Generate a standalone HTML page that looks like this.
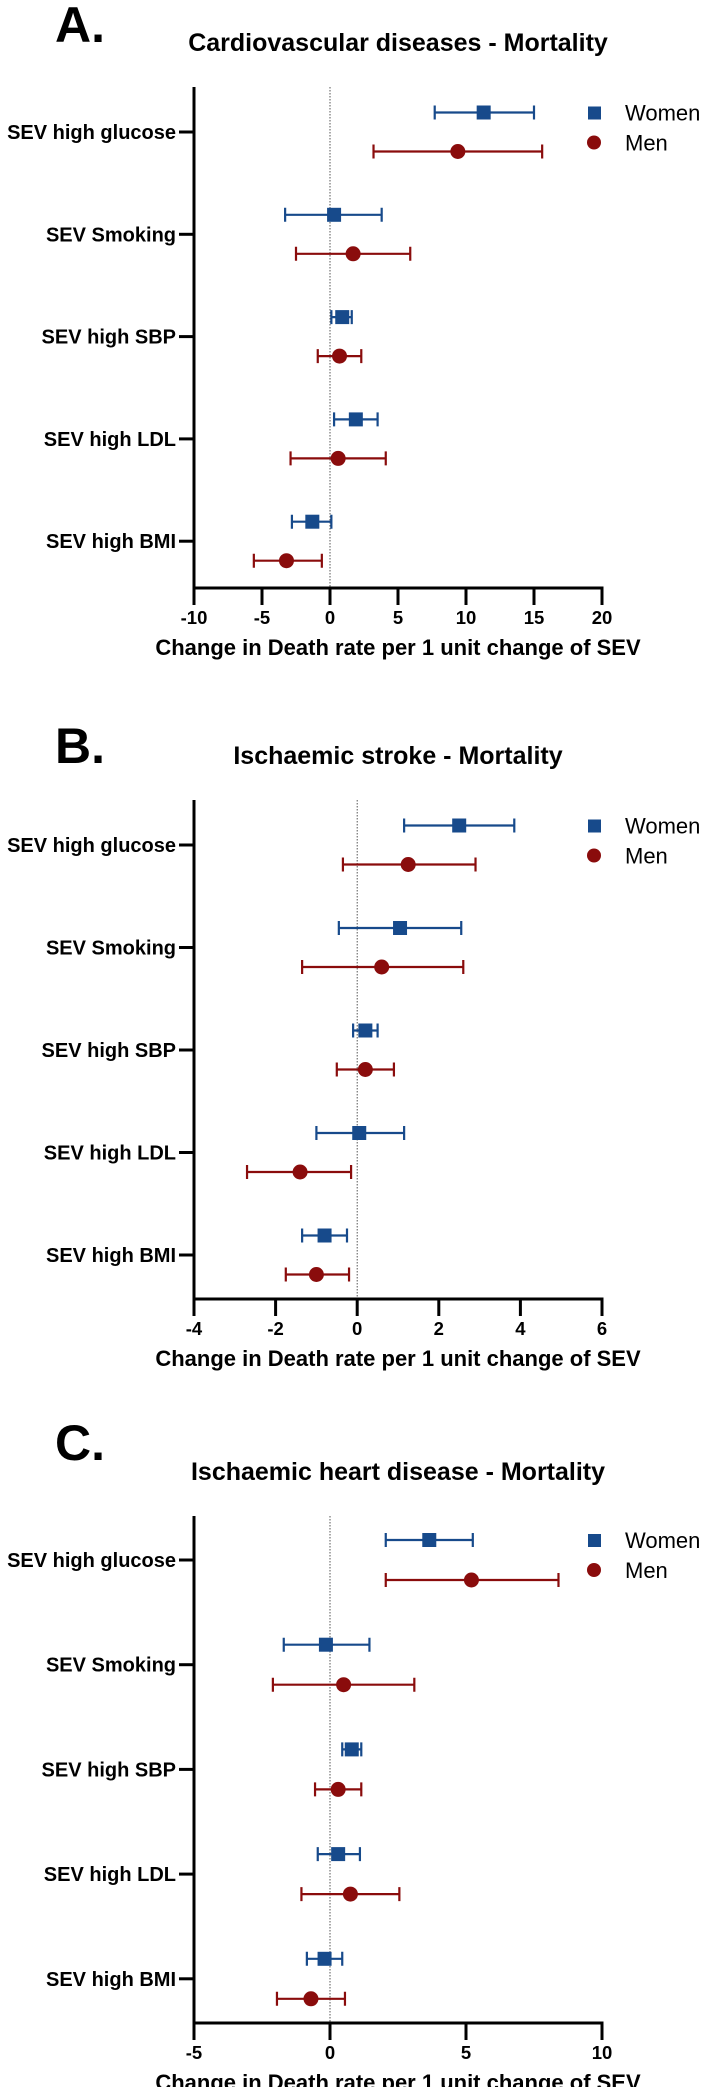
<!DOCTYPE html>
<html><head><meta charset="utf-8">
<style>
html,body{margin:0;padding:0;background:#fff;}
svg{display:block;font-family:"Liberation Sans",Arial,sans-serif;}
</style></head>
<body>
<svg id="fig" width="701" height="2087" viewBox="0 0 701 2087"></svg>
<script>
const categories = ["SEV high glucose","SEV Smoking","SEV high SBP","SEV high LDL","SEV high BMI"];
const panelTitles = ["Cardiovascular diseases - Mortality","Ischaemic stroke - Mortality","Ischaemic heart disease - Mortality"];
const panelLetters = ["A.","B.","C."];
const ticksA = [-10,-5,0,5,10,15,20];
const ticksB = [-4,-2,0,2,4,6];
const ticksC = [-5,0,5,10];
// Panel A
const womenA = [11.3,0.3,0.9,1.9,-1.3];
const womenLoA = [7.7,-3.3,0.1,0.3,-2.8];
const womenHiA = [15.0,3.8,1.6,3.5,0.1];
const menA = [9.4,1.7,0.7,0.6,-3.2];
const menLoA = [3.2,-2.5,-0.9,-2.9,-5.6];
const menHiA = [15.6,5.9,2.3,4.1,-0.6];
// Panel B
const womenB = [2.5,1.05,0.2,0.05,-0.8];
const womenLoB = [1.15,-0.45,-0.1,-1.0,-1.35];
const womenHiB = [3.85,2.55,0.5,1.15,-0.25];
const menB = [1.25,0.6,0.2,-1.4,-1.0];
const menLoB = [-0.35,-1.35,-0.5,-2.7,-1.75];
const menHiB = [2.9,2.6,0.9,-0.15,-0.2];
// Panel C
const womenC = [3.65,-0.15,0.8,0.3,-0.2];
const womenLoC = [2.05,-1.7,0.45,-0.45,-0.85];
const womenHiC = [5.25,1.45,1.15,1.1,0.45];
const menC = [5.2,0.5,0.3,0.75,-0.7];
const menLoC = [2.05,-2.1,-0.55,-1.05,-1.95];
const menHiC = [8.4,3.1,1.15,2.55,0.55];

const NS="http://www.w3.org/2000/svg";
const svg=document.getElementById('fig');
const BLUE="#174a8b", RED="#8a0c0c";
function mk(tag,attrs,parent){const e=document.createElementNS(NS,tag);for(const k in attrs)e.setAttribute(k,attrs[k]);(parent||svg).appendChild(e);return e;}

const layouts=[
 {top:87,axisY:588,row0:132,rowStep:102.3,off:19.5,titleY:51,letterY:42,ticks:ticksA,w:[womenA,womenLoA,womenHiA],m:[menA,menLoA,menHiA]},
 {top:800,axisY:1299,row0:845,rowStep:102.5,off:19.5,titleY:764,letterY:763,ticks:ticksB,w:[womenB,womenLoB,womenHiB],m:[menB,menLoB,menHiB]},
 {top:1516,axisY:2023,row0:1560,rowStep:104.7,off:20,titleY:1480,letterY:1460,ticks:ticksC,w:[womenC,womenLoC,womenHiC],m:[menC,menLoC,menHiC]}
];
const X0=194, X1=602;

layouts.forEach((L,p)=>{
  const g=mk('g',{});
  
  
  const tmin=L.ticks[0], tmax=L.ticks[L.ticks.length-1];
  const xs=v=>X0+(v-tmin)/(tmax-tmin)*(X1-X0);
  const ys=i=>L.row0+i*L.rowStep;

  const letter=mk('text',{x:55,y:L.letterY,'font-size':50,'font-weight':'bold',fill:'#000'},g);
  letter.textContent=panelLetters[p];
  
  
  const title=mk('text',{x:398,y:L.titleY,'font-size':25,'font-weight':'bold','text-anchor':'middle',fill:'#000'},g);
  title.textContent=panelTitles[p];
  
  

  const zl=mk('line',{x1:xs(0),x2:xs(0),y1:L.top,y2:L.axisY,stroke:'#555','stroke-width':1,'stroke-dasharray':'1.5,1.5'},g);
  
  

  const ya=mk('line',{x1:X0,x2:X0,y1:L.top,y2:L.axisY+1.5,stroke:'#000','stroke-width':3},g);
  
  
  const xa=mk('line',{x1:X0-1.5,x2:X1+1.5,y1:L.axisY,y2:L.axisY,stroke:'#000','stroke-width':3},g);
  
  

  L.ticks.forEach(t=>{
    const tk=mk('line',{x1:xs(t),x2:xs(t),y1:L.axisY,y2:L.axisY+17,stroke:'#000','stroke-width':3},g);
    
    
    const tl=mk('text',{x:xs(t),y:L.axisY+36,'font-size':18.5,'font-weight':'bold','text-anchor':'middle',fill:'#000'},g);
    tl.textContent=String(t);
    
    
  });
  const xl=mk('text',{x:398,y:L.axisY+67,'font-size':22,'font-weight':'bold','text-anchor':'middle',fill:'#000'},g);
  xl.textContent='Change in Death rate per 1 unit change of SEV';
  
  

  categories.forEach((c,i)=>{
    const tk=mk('line',{x1:X0-15,x2:X0,y1:ys(i),y2:ys(i),stroke:'#000','stroke-width':3},g);
    
    
    const tl=mk('text',{x:X0-18,y:ys(i)+7,'font-size':20,'font-weight':'bold','text-anchor':'end',fill:'#000'},g);
    tl.textContent=c;
    
    
  });

  function series(arr,color,dy,shape,name){
    const [v,lo,hi]=arr;
    v.forEach((val,i)=>{
      const y=ys(i)+dy;
      const eb=mk('path',{d:`M${xs(lo[i])},${y}H${xs(hi[i])}M${xs(lo[i])},${y-7}V${y+7}M${xs(hi[i])},${y-7}V${y+7}`,stroke:color,'stroke-width':2.2,fill:'none'},g);
      
      
      let mkr;
      if(shape==='sq') mkr=mk('rect',{x:xs(val)-7,y:y-7,width:14,height:14,fill:color},g);
      else mkr=mk('circle',{cx:xs(val),cy:y,r:7.5,fill:color},g);
      
      
    });
  }
  series(L.w,BLUE,-L.off,'sq','women');
  series(L.m,RED,L.off,'ci','men');

  const ly=L.row0-L.off;
  const lg=mk('g',{},g);
  
  
  const s=mk('rect',{x:588,y:ly-6,width:13,height:13,fill:BLUE},lg);
  
  
  const wt=mk('text',{x:625,y:ly+8,'font-size':22,fill:'#000'},lg);
  wt.textContent='Women';
  
  
  const cm=mk('circle',{cx:594,cy:ly+30,r:7,fill:RED},lg);
  
  
  const mt=mk('text',{x:625,y:ly+38,'font-size':22,fill:'#000'},lg);
  mt.textContent='Men';
  
  
});
</script>
</body></html>
